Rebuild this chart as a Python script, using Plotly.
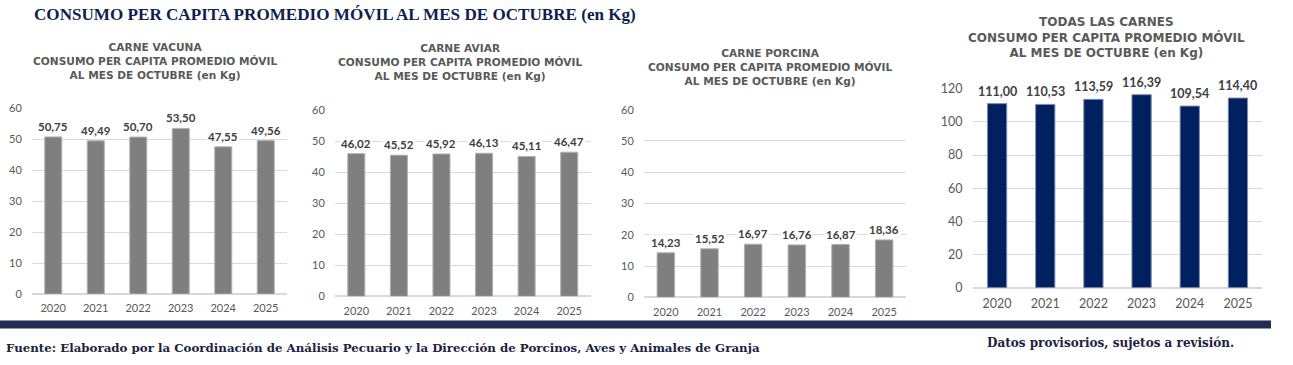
import plotly.graph_objects as go

# ---- data ----
years = ["2020", "2021", "2022", "2023", "2024", "2025"]
vacuna = [50.75, 49.49, 50.70, 53.50, 47.55, 49.56]
aviar = [46.02, 45.52, 45.92, 46.13, 45.11, 46.47]
porcina = [14.23, 15.52, 16.97, 16.76, 16.87, 18.36]
todas = [111.00, 110.53, 113.59, 116.39, 109.54, 114.40]

main_title = "CONSUMO PER CAPITA PROMEDIO MÓVIL AL MES DE OCTUBRE (en Kg)"
sub_common = "CONSUMO PER CAPITA PROMEDIO MÓVIL<br>AL MES DE OCTUBRE (en Kg)"
panel_names = ["CARNE VACUNA", "CARNE AVIAR", "CARNE PORCINA", "TODAS LAS CARNES"]
source_text = "Fuente: Elaborado por la Coordinación de Análisis Pecuario y la Dirección de Porcinos, Aves y Animales de Granja"
note_text = "Datos provisorios, sujetos a revisión."

W, H = 1293, 365


def px(x):
    return x / W


def py(y):
    return 1 - y / H


GRAY = "#7f7f7f"
NAVY = "#002060"
TXT = "#595959"
LBL = "#404040"
FONT = "Lato"
TFONT = "DejaVu Sans"

panels = [
    dict(vals=vacuna, color=GRAY, edge="#b0b0b0", xd=(32, 287), yd=(108.3, 294), ymax=60, dtick=10,
         tx=155, ty=61, tsize=10.6, ticksize=11, lsize=11.5, lshift=2),
    dict(vals=aviar, color=GRAY, edge="#b0b0b0", xd=(335, 590.5), yd=(110.3, 296.3), ymax=60, dtick=10,
         tx=460, ty=62, tsize=10.6, ticksize=11, lsize=11.5, lshift=2),
    dict(vals=porcina, color=GRAY, edge="#b0b0b0", xd=(644, 906), yd=(109.7, 297.3), ymax=60, dtick=10,
         tx=770, ty=67, tsize=10.6, ticksize=11, lsize=11.5, lshift=2),
    dict(vals=todas, color=NAVY, edge="#7f8fb0", xd=(973, 1262), yd=(88.7, 287.7), ymax=120, dtick=20,
         tx=1106, ty=37, tsize=12, ticksize=12.5, lsize=12.5, lshift=3),
]

fig = go.Figure()
layout_axes = {}
for i, p in enumerate(panels, start=1):
    sfx = "" if i == 1 else str(i)
    xa, ya = "x" + sfx, "y" + sfx
    fig.add_trace(go.Bar(
        x=years, y=p["vals"], xaxis=xa, yaxis=ya,
        marker=dict(color=p["color"], line=dict(color=p["edge"], width=1)),
        hoverinfo="skip", showlegend=False,
    ))
    layout_axes["xaxis" + sfx] = dict(
        domain=[px(p["xd"][0]), px(p["xd"][1])], anchor=ya, type="category",
        categoryorder="array", categoryarray=years, range=[-0.5, len(years) - 0.5],
        showgrid=False, showline=False, zeroline=False,
        ticks="outside", ticklen=4, tickcolor="rgba(0,0,0,0)",
        tickfont=dict(family=FONT, size=p["ticksize"], color=TXT),
        automargin=False, fixedrange=True,
    )
    layout_axes["yaxis" + sfx] = dict(
        domain=[py(p["yd"][1]), py(p["yd"][0])], anchor=xa,
        range=[0, p["ymax"]], dtick=p["dtick"], tick0=0,
        showgrid=True, gridcolor="#d9d9d9", gridwidth=1,
        zeroline=True, zerolinecolor="#d9d9d9", zerolinewidth=1.5,
        showline=False, ticks="outside", ticklen=7, tickcolor="rgba(0,0,0,0)",
        tickfont=dict(family=FONT, size=p["ticksize"], color=TXT),
        automargin=False, fixedrange=True,
    )
    for j, v in enumerate(p["vals"]):
        fig.add_annotation(
            x=j, y=v, xref=xa, yref=ya, showarrow=False,
            text=f"{v:.2f}".replace(".", ","), yanchor="bottom", yshift=p["lshift"],
            bgcolor="white", borderpad=1,
            font=dict(family=FONT, size=p["lsize"], color=LBL, weight="bold"),
        )
    fig.add_annotation(
        x=px(p["tx"]), y=py(p["ty"]), xref="paper", yref="paper", showarrow=False,
        xanchor="center", yanchor="middle", align="center",
        text=panel_names[i - 1] + "<br>" + sub_common,
        font=dict(family=TFONT, size=p["tsize"], color=TXT, weight="bold"),
    )

fig.update_layout(**layout_axes)

# main title
fig.add_annotation(
    x=px(32), y=py(15), xref="paper", yref="paper", showarrow=False,
    xanchor="left", yanchor="middle", text=main_title,
    font=dict(family="Liberation Serif", size=17.1, color="#0f1f4f", weight="bold"),
)

# footer band
fig.add_shape(type="rect", xref="paper", yref="paper",
              x0=0, x1=px(1271), y0=py(328.5), y1=py(320.5),
              line=dict(width=0), fillcolor="#232b52", layer="above")
fig.add_shape(type="line", xref="paper", yref="paper",
              x0=0, x1=px(1271), y0=py(320.5), y1=py(320.5),
              line=dict(width=1, color="#8d92a8"), layer="above")

fig.add_annotation(
    x=px(4), y=py(348), xref="paper", yref="paper", showarrow=False,
    xanchor="left", yanchor="middle", text=source_text,
    font=dict(family="DejaVu Serif", size=11.8, color="#1c2340", weight="bold"),
)
fig.add_annotation(
    x=px(985), y=py(343), xref="paper", yref="paper", showarrow=False,
    xanchor="left", yanchor="middle", text=note_text,
    font=dict(family="DejaVu Serif", size=12, color="#1c2340", weight="bold"),
)

fig.update_layout(
    width=W, height=H, margin=dict(l=0, r=0, t=0, b=0, autoexpand=False),
    paper_bgcolor="white", plot_bgcolor="white",
    bargap=0.6,
)

fig.write_html(
    "out.html",
    config={"displayModeBar": False},
    post_script="document.body.style.margin='0';document.body.style.overflow='hidden';",
)
